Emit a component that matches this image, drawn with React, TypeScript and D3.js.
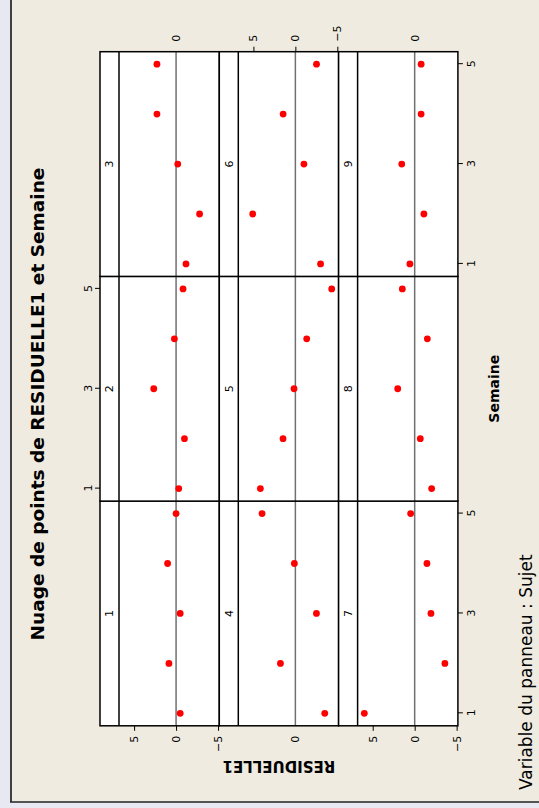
import React, { useRef, useEffect } from 'react';
import * as d3 from 'd3';

// residuals of each subject, weeks 1..5
const weeks: number[] = [1, 2, 3, 4, 5];
const subjects: string[] = ['1', '2', '3', '4', '5', '6', '7', '8', '9'];

const sujet1: number[] = [-0.49, 0.85, -0.49, 1.01, 0.0];
const sujet2: number[] = [-0.32, -1.0, 2.66, 0.2, -0.83];
const sujet3: number[] = [-1.18, -2.8, -0.2, 2.28, 2.28];
const sujet4: number[] = [-3.5, 1.78, -2.51, 0.12, 3.97];
const sujet5: number[] = [4.17, 1.47, 0.16, -1.35, -4.33];
const sujet6: number[] = [-3.0, 5.08, -1.02, 1.46, -2.52];
const sujet7: number[] = [6.0, -3.6, -1.94, -1.46, 0.48];
const sujet8: number[] = [-2.02, -0.67, 2.02, -1.51, 1.47];
const sujet9: number[] = [0.57, -1.1, 1.54, -0.77, -0.77];

const residuals: number[][] = [sujet1, sujet2, sujet3, sujet4, sujet5, sujet6, sujet7, sujet8, sujet9];

const weekTicks: number[] = [1, 3, 5];
const residualTicks: number[] = [5, 0, -5];

// the chart is laid out landscape, then turned a quarter to the left
const WIDTH = 808;
const HEIGHT = 539;
const margin = { top: 100, right: 51.7, bottom: 81.1, left: 82.2 };
const stripH = 19;
const FONT = 'DejaVu Sans, Verdana, sans-serif';

function PanelChart() {
    const ref = useRef<SVGSVGElement>(null);

    useEffect(() => {
        if (!ref.current) return;
        const svg = d3.select(ref.current);
        svg.selectAll('*').remove();

        const root = svg.append('g')
            .attr('transform', `translate(0,${WIDTH}) rotate(-90)`);

        // page background + frame
        root.append('rect')
            .attr('x', 0).attr('y', 0).attr('width', WIDTH).attr('height', HEIGHT)
            .attr('fill', '#e8e8f2');
        root.append('rect')
            .attr('x', 6).attr('y', 11).attr('width', WIDTH - 6).attr('height', HEIGHT - 11)
            .attr('fill', '#efebe1');
        root.append('line')
            .attr('x1', 6).attr('x2', WIDTH).attr('y1', 11).attr('y2', 11)
            .attr('stroke', '#404040').attr('stroke-width', 2);
        root.append('line')
            .attr('x1', 6).attr('x2', 6).attr('y1', 10).attr('y2', HEIGHT)
            .attr('stroke', '#222').attr('stroke-width', 1.5);

        const cols = d3.scaleBand<number>()
            .domain([0, 1, 2])
            .range([margin.left, WIDTH - margin.right]);
        const rows = d3.scaleBand<number>()
            .domain([0, 1, 2])
            .range([margin.top, HEIGHT - margin.bottom]);
        const panelW = cols.bandwidth();
        const panelH = rows.bandwidth();

        const x = d3.scaleLinear().domain([0.75, 5.25]).range([0, panelW]);
        const y = d3.scaleLinear().domain([-5.15, 6.8]).range([panelH, stripH]);

        subjects.forEach((s, i) => {
            const col = i % 3;
            const row = Math.floor(i / 3);
            const g = root.append('g')
                .attr('transform', `translate(${cols(col)},${rows(row)})`);

            g.append('rect')
                .attr('width', panelW).attr('height', panelH)
                .attr('fill', 'white');

            g.append('line')
                .attr('x1', 0).attr('x2', panelW)
                .attr('y1', y(0)).attr('y2', y(0))
                .attr('stroke', '#707070').attr('stroke-width', 1.5);

            g.selectAll('circle')
                .data(weeks)
                .join('circle')
                .attr('cx', (d: number) => x(d))
                .attr('cy', (d: number, k: number) => y(residuals[i][k]))
                .attr('r', 3.4)
                .attr('fill', '#ff0000');

            g.append('line')
                .attr('x1', 0).attr('x2', panelW)
                .attr('y1', stripH).attr('y2', stripH)
                .attr('stroke', 'black').attr('stroke-width', 1.5);

            g.append('text')
                .attr('x', panelW / 2).attr('y', stripH / 2)
                .attr('dy', '0.35em')
                .attr('text-anchor', 'middle')
                .attr('font-family', FONT).attr('font-size', 11)
                .text(s);

            g.append('rect')
                .attr('width', panelW).attr('height', panelH)
                .attr('fill', 'none')
                .attr('stroke', 'black').attr('stroke-width', 1.5);
        });

        const styleAxis = (a: any) => {
            a.select('.domain').remove();
            a.attr('font-family', FONT).attr('font-size', 11);
            a.selectAll('line').attr('stroke', 'black');
            a.selectAll('text').attr('fill', 'black');
        };

        // week axes alternate bottom / top
        [0, 2].forEach((c) => {
            root.append('g')
                .attr('transform', `translate(${cols(c)},${HEIGHT - margin.bottom})`)
                .call(d3.axisBottom(x).tickValues(weekTicks).tickSize(5).tickPadding(4).tickFormat(d3.format('d')))
                .call(styleAxis);
        });
        root.append('g')
            .attr('transform', `translate(${cols(1)},${margin.top})`)
            .call(d3.axisTop(x).tickValues(weekTicks).tickSize(5).tickPadding(3).tickFormat(d3.format('d')))
            .call(styleAxis);

        // residual axes alternate left / right
        rows.domain().forEach((r) => {
            const full = r !== 1;
            root.append('g')
                .attr('transform', `translate(${margin.left},${rows(r)})`)
                .call(d3.axisLeft(y)
                    .tickValues(full ? residualTicks : [0])
                    .tickSize(full ? 5 : 0)
                    .tickPadding(full ? 5 : 10)
                    .tickFormat(d3.format('d')))
                .call(styleAxis);
            root.append('g')
                .attr('transform', `translate(${WIDTH - margin.right},${rows(r)})`)
                .call(d3.axisRight(y)
                    .tickValues(full ? [0] : residualTicks)
                    .tickSize(full ? 0 : 5)
                    .tickPadding(full ? 10 : 5)
                    .tickFormat(d3.format('d')))
                .call(styleAxis);
        });

        // titles
        root.append('text')
            .attr('x', 404).attr('y', 44)
            .attr('text-anchor', 'middle')
            .attr('font-family', FONT).attr('font-weight', 'bold').attr('font-size', 18.5)
            .text('Nuage de points de RESIDUELLE1 et Semaine');

        root.append('text')
            .attr('x', (margin.left + WIDTH - margin.right) / 2).attr('y', 499)
            .attr('text-anchor', 'middle')
            .attr('font-family', FONT).attr('font-weight', 'bold').attr('font-size', 14)
            .text('Semaine');

        root.append('text')
            .attr('transform', `translate(47,${(margin.top + HEIGHT - margin.bottom) / 2}) rotate(-90)`)
            .attr('text-anchor', 'middle')
            .attr('font-family', FONT).attr('font-weight', 'bold').attr('font-size', 15)
            .text('RESIDUELLE1');

        root.append('text')
            .attr('x', 18).attr('y', 532)
            .attr('font-family', FONT).attr('font-size', 17)
            .text('Variable du panneau : Sujet');
    }, []);

    return (
        <svg
            ref={ref}
            width={HEIGHT}
            height={WIDTH}
            style={{ position: 'absolute', left: 0, top: 0 }}
        />
    );
}

export default function App() {
    return <PanelChart />;
}
